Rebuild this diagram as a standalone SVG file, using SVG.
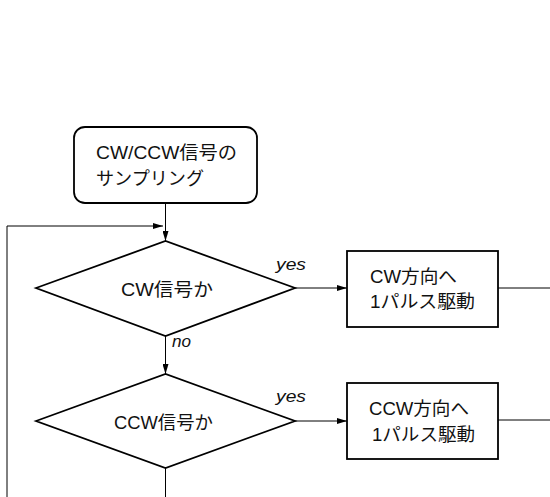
<svg xmlns="http://www.w3.org/2000/svg" width="550" height="497" viewBox="0 0 550 497">
<style>
.shape{fill:#fff;stroke:#000;stroke-width:1.8}
.conn{fill:none;stroke:#000;stroke-width:1}
.t{font-family:"Liberation Sans","Noto Sans CJK JP",sans-serif;font-size:18px;fill:#111}
.lbl{font-family:"Liberation Sans",Arial,sans-serif;font-size:17px;font-style:italic;fill:#111}
</style>
<defs>
<marker id="ah" viewBox="0 0 10 6" refX="10" refY="3" markerWidth="10" markerHeight="6" markerUnits="userSpaceOnUse" orient="auto">
<path d="M0,0 L10,3 L0,6 Z" fill="#000"/>
</marker>
</defs>
<rect width="550" height="497" fill="#fff"/>
<g id="connectors">
<line class="conn" x1="165.5" y1="203" x2="165.5" y2="241" marker-end="url(#ah)"/>
<polyline class="conn" points="7,497 7,226 163,226" marker-end="url(#ah)"/>
<line class="conn" x1="165.5" y1="336" x2="165.5" y2="374" marker-end="url(#ah)"/>
<line class="conn" x1="165.5" y1="468" x2="165.5" y2="497"/>
<line class="conn" x1="295" y1="288" x2="347" y2="288" marker-end="url(#ah)"/>
<line class="conn" x1="295" y1="421" x2="347" y2="421" marker-end="url(#ah)"/>
<line class="conn" x1="498" y1="288" x2="550" y2="288"/>
<line class="conn" x1="498" y1="420" x2="550" y2="420"/>
<text class="lbl" x="276" y="270" textLength="30" lengthAdjust="spacingAndGlyphs">yes</text>
<text class="lbl" x="276" y="402" textLength="30" lengthAdjust="spacingAndGlyphs">yes</text>
<text class="lbl" x="172" y="347" textLength="19" lengthAdjust="spacingAndGlyphs">no</text>
</g>
<g id="start">
<rect class="shape" x="74" y="127" width="183" height="76" rx="11"/>
<text class="t" x="96" y="159" textLength="141" lengthAdjust="spacingAndGlyphs">CW/CCW信号の</text>
<text class="t" x="96" y="185" textLength="108" lengthAdjust="spacingAndGlyphs">サンプリング</text>
</g>
<g id="cw-check">
<polygon class="shape" points="36,288 165.5,241 295,288 165.5,336"/>
<text class="t" x="121" y="296" textLength="92" lengthAdjust="spacingAndGlyphs">CW信号か</text>
</g>
<g id="ccw-check">
<polygon class="shape" points="36,421 165.5,374 295,421 165.5,468"/>
<text class="t" x="114" y="429" textLength="99" lengthAdjust="spacingAndGlyphs">CCW信号か</text>
</g>
<g id="cw-drive">
<rect class="shape" x="347" y="251" width="151" height="76"/>
<text class="t" x="370" y="283" textLength="87" lengthAdjust="spacingAndGlyphs">CW方向へ</text>
<text class="t" x="370" y="308" textLength="105" lengthAdjust="spacingAndGlyphs">1パルス駆動</text>
</g>
<g id="ccw-drive">
<rect class="shape" x="347" y="383" width="151" height="76"/>
<text class="t" x="369" y="415" textLength="100" lengthAdjust="spacingAndGlyphs">CCW方向へ</text>
<text class="t" x="372" y="441" textLength="103" lengthAdjust="spacingAndGlyphs">1パルス駆動</text>
</g>
</svg>
